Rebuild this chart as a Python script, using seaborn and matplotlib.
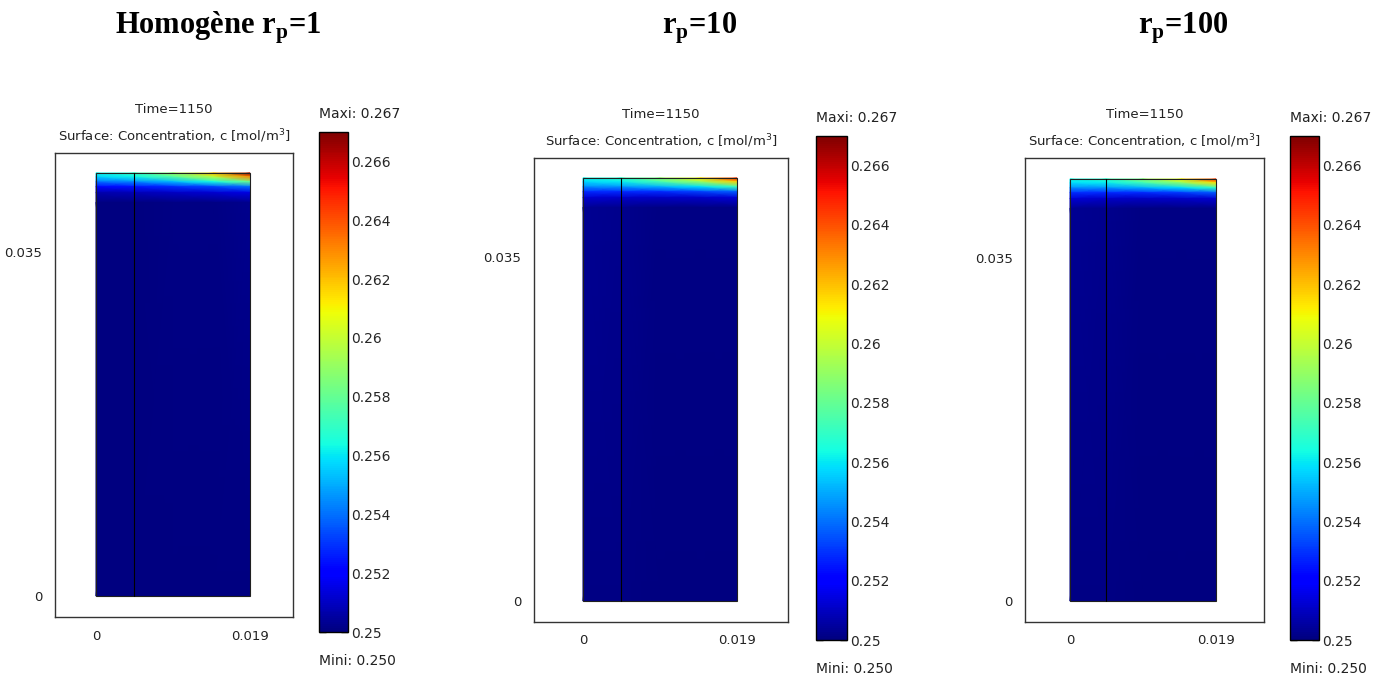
import numpy as np
import seaborn as sns
import matplotlib
matplotlib.use("Agg")
from matplotlib import pyplot as plt
from matplotlib.patches import Rectangle

# --- data ---
panel_titles = ["Homogène r$_{\\mathbf{p}}$=1", "r$_{\\mathbf{p}}$=10", "r$_{\\mathbf{p}}$=100"]
time_value = 1150
c_min = 0.250
c_max = 0.267
cbar_ticks = [0.25, 0.252, 0.254, 0.256, 0.258, 0.26, 0.262, 0.264, 0.266]

domain_width = 0.019
domain_height = 0.043
interface_x = 0.0047
x_ticks = [0, 0.019]
y_ticks = [0, 0.035]

# nodes of the concentration table: columns along x, rows = depth below the top edge
x_nodes = [0.0, 0.0047, 0.0095, 0.0145, 0.019]
depth_nodes = [0.0, 0.0004, 0.0009, 0.0014, 0.002, 0.003, 0.043]

conc_homogene = [
    [0.2562, 0.2570, 0.2590, 0.2620, 0.2665],
    [0.2556, 0.2562, 0.2577, 0.2598, 0.2630],
    [0.2540, 0.2544, 0.2552, 0.2564, 0.2582],
    [0.2522, 0.2524, 0.2528, 0.2533, 0.2540],
    [0.2507, 0.2508, 0.2510, 0.2512, 0.2515],
    [0.2500, 0.2500, 0.2501, 0.2501, 0.2502],
    [0.2500, 0.2500, 0.2500, 0.2500, 0.2500],
]
conc_rp10 = [
    [0.2562, 0.2568, 0.2587, 0.2612, 0.2650],
    [0.2557, 0.2561, 0.2574, 0.2591, 0.2617],
    [0.2544, 0.2546, 0.2551, 0.2559, 0.2572],
    [0.2528, 0.2528, 0.2528, 0.2532, 0.2537],
    [0.2512, 0.2511, 0.2510, 0.2511, 0.2513],
    [0.2503, 0.2502, 0.2501, 0.2501, 0.2501],
    [0.2501, 0.2501, 0.2500, 0.2500, 0.2500],
]
conc_rp100 = [
    [0.2563, 0.2568, 0.2586, 0.2610, 0.2647],
    [0.2558, 0.2561, 0.2573, 0.2589, 0.2614],
    [0.2545, 0.2546, 0.2551, 0.2558, 0.2570],
    [0.2529, 0.2528, 0.2528, 0.2531, 0.2536],
    [0.2513, 0.2511, 0.2510, 0.2511, 0.2512],
    [0.2503, 0.2502, 0.2501, 0.2501, 0.2501],
    [0.2501, 0.2501, 0.2500, 0.2500, 0.2500],
]
fields = [conc_homogene, conc_rp10, conc_rp100]

# --- layout (pixels in a 1380x680 canvas) ---
W, H = 1380, 680
# axes box (left, top, right, bottom)
axes_px = [(55, 153, 293, 617), (534, 158, 788, 622), (1025, 158, 1264, 622)]
# domain corners: pixel of x=0, x=width, y=0, y=height
domain_px = [(96, 250, 596, 173), (583, 737, 601, 178), (1070, 1216, 601, 179)]
cbar_px = [(319, 132, 348, 632), (816, 136, 847, 640), (1290, 136, 1319, 640)]
title_x = [218, 700, 1183]


def frac_rect(left, top, right, bottom):
    return [left / W, 1 - bottom / H, (right - left) / W, (bottom - top) / H]


sns.set_style("white")
plt.rcParams["font.family"] = ["DejaVu Sans"]
plt.rcParams["mathtext.fontset"] = "custom"
plt.rcParams["mathtext.bf"] = "Liberation Serif:bold"
plt.rcParams["mathtext.rm"] = "DejaVu Sans"

cmap = matplotlib.colormaps["jet"]

fig = plt.figure(figsize=(W / 100, H / 100), dpi=100)

for k in range(3):
    ax = fig.add_axes(frac_rect(*axes_px[k]))
    (l, t, r, b) = axes_px[k]
    (x0p, x1p, y0p, y1p) = domain_px[k]
    sx = (x1p - x0p) / domain_width
    sy = (y0p - y1p) / domain_height
    ax.set_xlim(-(x0p - l) / sx, (r - x0p) / sx)
    ax.set_ylim(-(b - y0p) / sy, (y0p - t) / sy)

    X, Y = np.meshgrid(x_nodes, domain_height - np.array(depth_nodes))
    mesh = ax.pcolormesh(X, Y, np.array(fields[k]), cmap=cmap, vmin=c_min, vmax=c_max,
                         shading="gouraud", zorder=1)
    ax.add_patch(Rectangle((0, 0), domain_width, domain_height, fill=False,
                           edgecolor="#202020", linewidth=0.8, zorder=3))
    ax.plot([interface_x, interface_x], [0, domain_height], color="black",
            linewidth=0.8, zorder=3)

    ax.set_xticks(x_ticks)
    ax.set_xticklabels(["0", "0.019"])
    ax.set_yticks(y_ticks)
    ax.set_yticklabels(["0", "0.035"])
    ax.tick_params(length=0, pad=9, labelsize=9.5, colors="#222222")
    for sp in ax.spines.values():
        sp.set_color("#333333")
        sp.set_linewidth(1.0)
    ax.set_title(f"Time={time_value}\nSurface: Concentration, c [mol/m$^3$]",
                 fontsize=9.5, linespacing=1.8, pad=9, color="#222222")

    cax = fig.add_axes(frac_rect(*cbar_px[k]))
    cb = fig.colorbar(mesh, cax=cax, ticks=cbar_ticks)
    cb.ax.set_yticklabels([f"{v:g}" for v in cbar_ticks])
    cb.ax.tick_params(direction="in", left=True, right=True, length=5, width=1,
                      color="black", labelsize=10, pad=2)
    cb.outline.set_edgecolor("black")
    cb.outline.set_linewidth(1.0)
    cb_h = cbar_px[k][3] - cbar_px[k][1]
    cax.text(0, 1 + 18 / cb_h, f"Maxi: {c_max:.3f}", transform=cax.transAxes,
             ha="left", va="center", fontsize=10, color="#222222")
    cax.text(0, -29 / cb_h, f"Mini: {c_min:.3f}", transform=cax.transAxes,
             ha="left", va="center", fontsize=10, color="#222222")

    fig.text(title_x[k] / W, 1 - 28 / H, panel_titles[k], ha="center", va="center",
             fontsize=22, fontweight="bold", family="Liberation Serif", color="black")

fig.savefig("out.png", dpi=100)
